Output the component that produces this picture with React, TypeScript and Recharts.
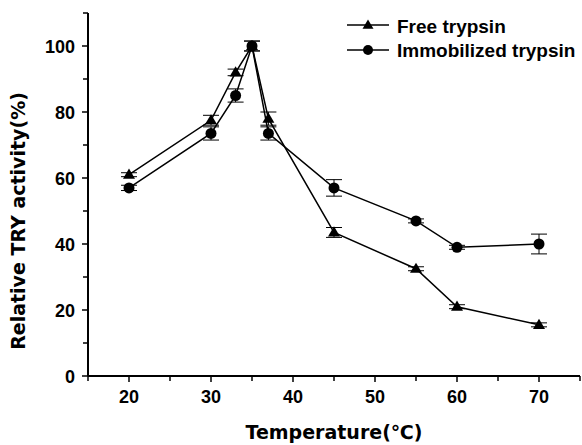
import { LineChart, Line, XAxis, YAxis, ErrorBar, Legend, Label } from 'recharts';

const temperatures = [20, 30, 33, 35, 37, 45, 55, 60, 70];
const freeTrypsin = [61, 77.5, 92, 100, 78, 43.5, 32.5, 21, 15.5];
const freeErr = [0.6, 1.5, 1, 1.5, 2, 1.5, 0.6, 0.6, 0.6];
const immobilizedTrypsin = [57, 73.5, 85, 100, 73.5, 57, 47, 39, 40];
const immobilizedErr = [0.8, 2, 2, 1.5, 2, 2.5, 0.6, 0.6, 3];

const xTicks = [15, 20, 25, 30, 35, 40, 45, 50, 55, 60, 65, 70, 75];
const xLabels = [20, 30, 40, 50, 60, 70];
const yTicks = [0, 10, 20, 30, 40, 50, 60, 70, 80, 90, 100, 110];
const yLabels = [0, 20, 40, 60, 80, 100];

const FONT = '"Liberation Sans", Arial, sans-serif';
const TITLE_FONT = '"DejaVu Sans", sans-serif';

const data = temperatures.map((t, i) => ({
  temp: t,
  free: freeTrypsin[i],
  freeErr: freeErr[i],
  immob: immobilizedTrypsin[i],
  immobErr: immobilizedErr[i],
}));

function XTick(props: any) {
  const { x, y, payload } = props;
  const major = xLabels.includes(payload.value);
  return (
    <g>
      <line x1={x} x2={x} y1={y} y2={y + (major ? 6 : 5)} stroke="#000" strokeWidth={1.5} />
      {major && (
        <text x={x} y={y + 27} textAnchor="middle" fontFamily={FONT} fontWeight="bold" fontSize={18} fill="#000">
          {payload.value}
        </text>
      )}
    </g>
  );
}

function YTick(props: any) {
  const { x, y, payload } = props;
  const major = yLabels.includes(payload.value);
  return (
    <g>
      <line x1={x} x2={x - (major ? 6 : 5)} y1={y} y2={y} stroke="#000" strokeWidth={1.5} />
      {major && (
        <text x={x - 13} y={y + 6.5} textAnchor="end" fontFamily={FONT} fontWeight="bold" fontSize={18} fill="#000">
          {payload.value}
        </text>
      )}
    </g>
  );
}

function Triangle({ cx, cy, size = 12 }: { cx: number; cy: number; size?: number }) {
  const h = size * 0.85;
  return <path d={`M${cx},${cy - h * 0.6} L${cx + size / 2},${cy + h * 0.4} L${cx - size / 2},${cy + h * 0.4} Z`} fill="#000" />;
}

const triangleDot = (p: any) => <Triangle key={`t-${p.index}`} cx={p.cx} cy={p.cy} />;
const circleDot = (p: any) => <circle key={`c-${p.index}`} cx={p.cx} cy={p.cy} r={5.5} fill="#000" />;

function LegendBox() {
  return (
    <svg width={240} height={56}>
      <line x1={7} x2={49} y1={13} y2={13} stroke="#000" strokeWidth={1.5} />
      <Triangle cx={28} cy={13} size={11} />
      <text x={57} y={21} fontFamily={FONT} fontWeight="bold" fontSize={19} fill="#000">Free trypsin</text>
      <line x1={7} x2={49} y1={38} y2={38} stroke="#000" strokeWidth={1.5} />
      <circle cx={28} cy={38} r={5} fill="#000" />
      <text x={57} y={45} fontFamily={FONT} fontWeight="bold" fontSize={19} fill="#000">Immobilized trypsin</text>
    </svg>
  );
}

export default function App() {
  return (
    <div style={{ position: 'absolute', left: 0, top: 0, width: 582, height: 445, background: '#fff' }}>
      <LineChart width={582} height={445} data={data} margin={{ top: 13, right: 2, left: 0, bottom: 0 }}>
        <XAxis
          dataKey="temp"
          type="number"
          domain={[15, 75]}
          ticks={xTicks}
          interval={0}
          tick={<XTick />}
          tickLine={false}
          tickSize={0}
          tickMargin={0}
          height={69}
          axisLine={{ stroke: '#000', strokeWidth: 2 }}
        >
          <Label
            content={(p: any) => {
              const vb = p.viewBox;
              return (
                <text x={vb.x + vb.width / 2} y={vb.y + 63} textAnchor="middle" fontFamily={TITLE_FONT} fontWeight="bold" fontSize={19} fill="#000">
                  Temperature(℃)
                </text>
              );
            }}
          />
        </XAxis>
        <YAxis
          type="number"
          domain={[0, 110]}
          ticks={yTicks}
          interval={0}
          tick={<YTick />}
          tickLine={false}
          tickSize={0}
          tickMargin={0}
          width={88}
          axisLine={{ stroke: '#000', strokeWidth: 2 }}
        >
          <Label
            content={() => {
              const cx = 18;
              const cy = 221;
              return (
                <text x={cx} y={cy} transform={`rotate(-90 ${cx} ${cy})`} textAnchor="middle" dominantBaseline="central" fontFamily={TITLE_FONT} fontWeight="bold" fontSize={19} fill="#000">
                  Relative TRY activity(%)
                </text>
              );
            }}
          />
        </YAxis>
        <Legend
          layout="vertical"
          align="center"
          verticalAlign="middle"
          content={() => <LegendBox />}
          wrapperStyle={{ top: 12, left: 340, width: 240, height: 56 }}
        />
        <Line dataKey="immob" name="Immobilized trypsin" stroke="#000" strokeWidth={1.5} dot={circleDot} activeDot={false} isAnimationActive={false}>
          <ErrorBar dataKey="immobErr" width={8} stroke="#000" strokeWidth={1} direction="y" isAnimationActive={false} />
        </Line>
        <Line dataKey="free" name="Free trypsin" stroke="#000" strokeWidth={1.5} dot={triangleDot} activeDot={false} isAnimationActive={false}>
          <ErrorBar dataKey="freeErr" width={8} stroke="#000" strokeWidth={1} direction="y" isAnimationActive={false} />
        </Line>
      </LineChart>
    </div>
  );
}
